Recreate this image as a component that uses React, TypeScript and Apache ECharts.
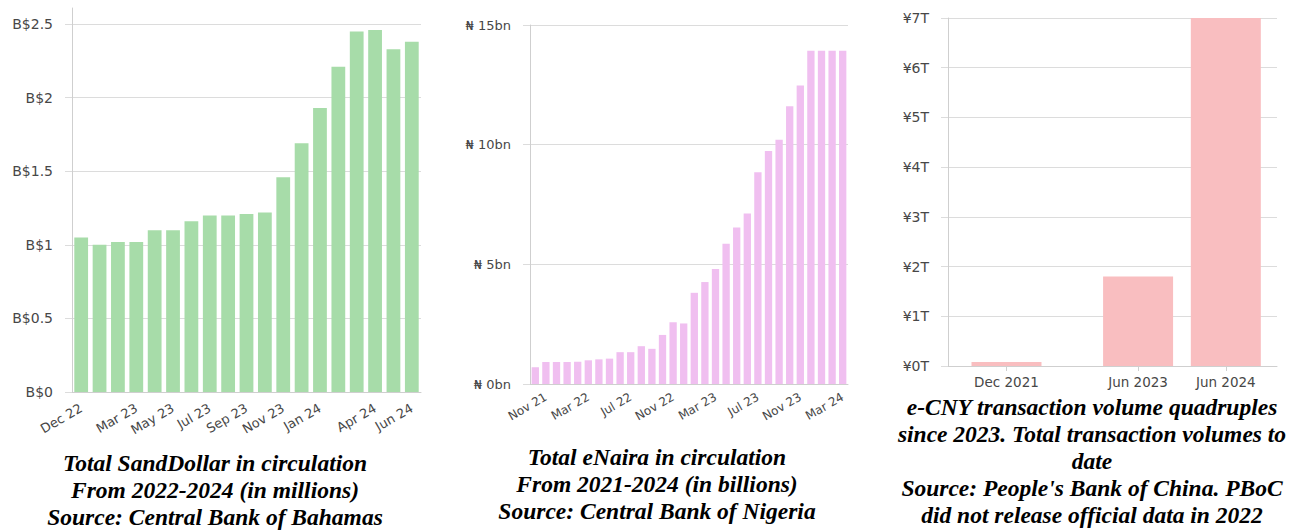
import React, { useEffect, useRef } from "react";
import * as echarts from "echarts";

// Chart 1: SandDollar (B$ millions)
const sandCategories = [
  "Dec 22", "Jan 23", "Feb 23", "Mar 23", "Apr 23", "May 23", "Jun 23", "Jul 23",
  "Aug 23", "Sep 23", "Oct 23", "Nov 23", "Dec 23", "Jan 24", "Feb 24", "Mar 24",
  "Apr 24", "May 24", "Jun 24",
];
const sandValues = [
  1.05, 1.0, 1.02, 1.02, 1.1, 1.1, 1.16, 1.2, 1.2, 1.21, 1.22, 1.46, 1.69, 1.93,
  2.21, 2.45, 2.46, 2.33, 2.38,
];
const sandShownLabels = ["Dec 22", "Mar 23", "May 23", "Jul 23", "Sep 23", "Nov 23", "Jan 24", "Apr 24", "Jun 24"];

// Chart 2: eNaira (₦ billions)
const nairaCategories = [
  "Oct 21", "Nov 21", "Dec 21", "Jan 22", "Feb 22", "Mar 22", "Apr 22", "May 22",
  "Jun 22", "Jul 22", "Aug 22", "Sep 22", "Oct 22", "Nov 22", "Dec 22", "Jan 23",
  "Feb 23", "Mar 23", "Apr 23", "May 23", "Jun 23", "Jul 23", "Aug 23", "Sep 23",
  "Oct 23", "Nov 23", "Dec 23", "Jan 24", "Feb 24", "Mar 24",
];
const nairaValues = [
  0.7, 0.92, 0.92, 0.92, 0.93, 0.99, 1.03, 1.06, 1.33, 1.33, 1.58, 1.47, 2.05,
  2.58, 2.53, 3.81, 4.26, 4.81, 5.86, 6.54, 7.12, 8.85, 9.74, 10.21, 11.61,
  12.47, 13.92, 13.92, 13.92, 13.92,
];
const nairaShownLabels = ["Nov 21", "Mar 22", "Jul 22", "Nov 22", "Mar 23", "Jul 23", "Nov 23", "Mar 24"];

// Chart 3: e-CNY (¥ trillions), x = months since Jan 2021
const cnyLabels = ["Dec 2021", "Jun 2023", "Jun 2024"];
const cnyMonths = [11, 29, 41];
const cnyValues = [0.08, 1.8, 7];

const captions = [
  "Total SandDollar in circulation\nFrom 2022-2024 (in millions)\nSource: Central Bank of Bahamas",
  "Total eNaira in circulation\nFrom 2021-2024 (in billions)\nSource: Central Bank of Nigeria",
  "e-CNY transaction volume quadruples\nsince 2023. Total transaction volumes to\ndate\nSource: People's Bank of China. PBoC\ndid not release official data in 2022",
];

const FONT = "'DejaVu Sans', sans-serif";
const LABEL_COLOR = "#474747";
const AXIS_COLOR = "#cfcfcf";
const GRID_COLOR = "#dcdcdc";

export default function App() {
  const ref = useRef<HTMLDivElement>(null);

  useEffect(() => {
    document.body.style.margin = "0";
    if (!ref.current) return;
    const chart = echarts.init(ref.current, undefined, { renderer: "svg" });

    const yAxisBase = (fmt: (v: number) => string, fontSize: number, hideMax: boolean) => ({
      type: "value",
      min: 0,
      axisLine: { show: true, lineStyle: { color: AXIS_COLOR, width: 1 } },
      axisTick: { show: true, length: 7, lineStyle: { color: GRID_COLOR } },
      splitLine: { show: true, showMaxLine: !hideMax, lineStyle: { color: GRID_COLOR } },
      axisLabel: {
        formatter: fmt,
        color: LABEL_COLOR,
        fontFamily: FONT,
        fontSize,
        margin: 19,
        showMaxLabel: !hideMax,
      },
    });

    const xLabelStyle = {
      color: LABEL_COLOR,
      fontFamily: FONT,
    };

    chart.setOption({
      animation: false,
      grid: [
        { left: 72, right: 885, top: 8, bottom: 139 },
        { left: 530, right: 458, top: 25, bottom: 147 },
        { left: 948, right: 29, top: 18, bottom: 165 },
      ],
      xAxis: [
        {
          type: "category",
          gridIndex: 0,
          data: sandCategories,
          axisLine: { lineStyle: { color: AXIS_COLOR } },
          axisTick: { alignWithLabel: true, interval: 0, length: 5, lineStyle: { color: AXIS_COLOR } },
          axisLabel: {
            ...xLabelStyle,
            fontSize: 13,
            rotate: 30,
            margin: 15,
            interval: (_i: number, v: string) => sandShownLabels.includes(v),
          },
        },
        {
          type: "category",
          gridIndex: 1,
          data: nairaCategories,
          axisLine: { lineStyle: { color: AXIS_COLOR } },
          axisTick: { alignWithLabel: true, interval: 0, length: 5, lineStyle: { color: AXIS_COLOR } },
          axisLabel: {
            ...xLabelStyle,
            fontSize: 12,
            rotate: 30,
            margin: 12,
            interval: (_i: number, v: string) => nairaShownLabels.includes(v),
          },
        },
        {
          type: "value",
          gridIndex: 2,
          min: 3,
          max: 48,
          splitLine: { show: false },
          axisLine: { show: true, lineStyle: { color: AXIS_COLOR } },
          axisTick: { show: true, length: 5, lineStyle: { color: AXIS_COLOR }, customValues: cnyMonths },
          axisLabel: {
            ...xLabelStyle,
            fontSize: 13.5,
            margin: 9,
            customValues: cnyMonths,
            formatter: (v: number) => {
              const i = cnyMonths.indexOf(v);
              return i >= 0 ? cnyLabels[i] : "";
            },
          },
        },
      ],
      yAxis: [
        { ...yAxisBase((v) => "B$" + v, 14, true), gridIndex: 0, max: 2.61, interval: 0.5 },
        { ...yAxisBase((v) => "₦ " + v + "bn", 13, false), gridIndex: 1, max: 15, interval: 5 },
        { ...yAxisBase((v) => "¥" + v + "T", 14, false), gridIndex: 2, max: 7, interval: 1 },
      ],
      series: [
        {
          type: "bar",
          xAxisIndex: 0,
          yAxisIndex: 0,
          data: sandValues,
          barCategoryGap: "25%",
          itemStyle: { color: "#a7dca9" },
        },
        {
          type: "bar",
          xAxisIndex: 1,
          yAxisIndex: 1,
          data: nairaValues,
          barCategoryGap: "31%",
          itemStyle: { color: "#f0bff0" },
        },
        {
          type: "bar",
          xAxisIndex: 2,
          yAxisIndex: 2,
          data: cnyMonths.map((m, i) => [m, cnyValues[i]]),
          barWidth: 70,
          itemStyle: { color: "#f9bec0" },
        },
      ],
      graphic: [
        { x: 215, y: 449, text: captions[0], lh: 27 },
        { x: 657, y: 443, text: captions[1], lh: 27 },
        { x: 1092, y: 393, text: captions[2], lh: 27 },
      ].map((c) => ({
        type: "text",
        x: c.x,
        y: c.y,
        style: {
          text: c.text,
          textAlign: "center",
          textVerticalAlign: "top",
          font: "italic bold 23.5px 'Liberation Serif', 'Times New Roman', serif",
          lineHeight: c.lh,
          fill: "#000",
        },
      })),
    });

    return () => chart.dispose();
  }, []);

  return <div ref={ref} style={{ width: 1306, height: 531 }} />;
}
